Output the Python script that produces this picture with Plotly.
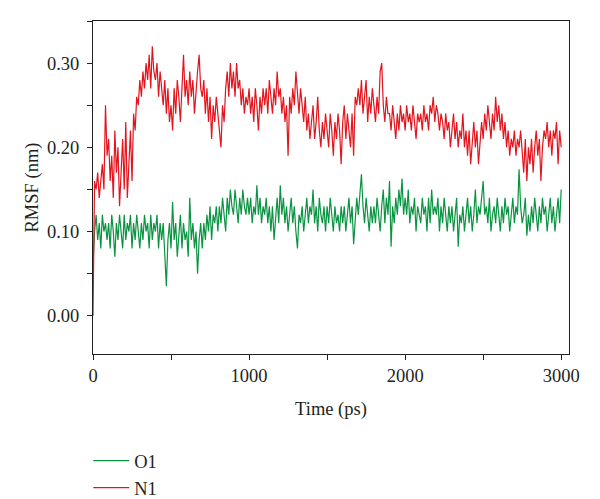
import plotly.graph_objects as go

# Time axis (ps), one sample every 10 ps
time_ps = list(range(0, 3001, 10))

# O1 RMSF (nm)
o1_rmsf = [
    0.06, 0.10, 0.12, 0.09, 0.11, 0.08, 0.12, 0.10, 0.11, 0.09,
    0.11, 0.08, 0.12, 0.10, 0.07, 0.11, 0.09, 0.12, 0.10, 0.08,
    0.12, 0.09, 0.11, 0.10, 0.12, 0.08, 0.11, 0.09, 0.12, 0.10,
    0.08, 0.11, 0.09, 0.12, 0.10, 0.11, 0.08, 0.12, 0.09, 0.11,
    0.10, 0.12, 0.08, 0.11, 0.09, 0.11, 0.07, 0.035, 0.09, 0.11,
    0.08, 0.135, 0.09, 0.11, 0.07, 0.10, 0.12, 0.08, 0.11, 0.09,
    0.10, 0.07, 0.14, 0.09, 0.11, 0.08, 0.10, 0.05, 0.09, 0.11,
    0.08, 0.11, 0.09, 0.12, 0.10, 0.13, 0.09, 0.12, 0.11, 0.13,
    0.10, 0.13, 0.11, 0.14, 0.12, 0.10, 0.14, 0.12, 0.15, 0.13,
    0.12, 0.15, 0.13, 0.11, 0.14, 0.12, 0.15, 0.13, 0.12, 0.14,
    0.12, 0.14, 0.11, 0.13, 0.12, 0.155, 0.12, 0.14, 0.11, 0.13,
    0.12, 0.14, 0.11, 0.13, 0.10, 0.13, 0.09, 0.12, 0.14, 0.11,
    0.155, 0.12, 0.14, 0.11, 0.13, 0.10, 0.12, 0.14, 0.11, 0.13,
    0.10, 0.08, 0.12, 0.11, 0.13, 0.10, 0.12, 0.14, 0.11, 0.13,
    0.12, 0.15, 0.11, 0.13, 0.10, 0.14, 0.12, 0.11, 0.13, 0.10,
    0.13, 0.11, 0.14, 0.12, 0.10, 0.13, 0.11, 0.12, 0.10, 0.13,
    0.11, 0.13, 0.10, 0.12, 0.14, 0.11, 0.13, 0.085, 0.12, 0.14,
    0.12, 0.15, 0.168, 0.13, 0.11, 0.14, 0.12, 0.10, 0.13, 0.11,
    0.13, 0.11, 0.14, 0.12, 0.10, 0.13, 0.15, 0.11, 0.14, 0.12,
    0.16, 0.082, 0.13, 0.11, 0.14, 0.12, 0.15, 0.13, 0.163, 0.12,
    0.14, 0.12, 0.15, 0.11, 0.13, 0.12, 0.14, 0.10, 0.13, 0.12,
    0.11, 0.14, 0.12, 0.13, 0.10, 0.14, 0.11, 0.15, 0.12, 0.13,
    0.12, 0.14, 0.10, 0.13, 0.11, 0.14, 0.12, 0.10, 0.13, 0.11,
    0.13, 0.10, 0.12, 0.14, 0.082, 0.12, 0.11, 0.13, 0.10, 0.12,
    0.14, 0.11, 0.13, 0.10, 0.12, 0.15, 0.11, 0.13, 0.12, 0.14,
    0.16, 0.12, 0.13, 0.11, 0.14, 0.10, 0.12, 0.13, 0.11, 0.14,
    0.12, 0.10, 0.13, 0.11, 0.14, 0.12, 0.13, 0.10, 0.12, 0.14,
    0.11, 0.13, 0.12, 0.174, 0.13, 0.11, 0.12, 0.14, 0.095, 0.12,
    0.10, 0.13, 0.11, 0.14, 0.12, 0.10, 0.13, 0.11, 0.14, 0.12,
    0.13, 0.10, 0.12, 0.14, 0.11, 0.13, 0.10, 0.12, 0.14, 0.11,
    0.15,
]

# N1 RMSF (nm)
n1_rmsf = [
    0.00, 0.16, 0.15, 0.17, 0.14, 0.16, 0.18, 0.15, 0.25, 0.19,
    0.21, 0.16, 0.19, 0.14, 0.22, 0.17, 0.20, 0.13, 0.18, 0.21,
    0.15, 0.23, 0.14, 0.19, 0.22, 0.16, 0.24, 0.22, 0.26, 0.25,
    0.28, 0.26, 0.29, 0.27, 0.30, 0.28, 0.31, 0.27, 0.32, 0.29,
    0.28, 0.30, 0.26, 0.29, 0.27, 0.25, 0.28, 0.24, 0.27, 0.23,
    0.25, 0.22, 0.27, 0.24, 0.28, 0.26, 0.23, 0.27, 0.31, 0.26,
    0.28, 0.25, 0.29, 0.26, 0.28, 0.24, 0.27, 0.29, 0.31, 0.27,
    0.26, 0.28, 0.24, 0.27, 0.23, 0.26, 0.21, 0.25, 0.23, 0.26,
    0.24, 0.22, 0.20, 0.25, 0.23, 0.27, 0.29, 0.26, 0.30, 0.27,
    0.29, 0.26, 0.30, 0.27, 0.28, 0.25, 0.27, 0.24, 0.26, 0.25,
    0.27, 0.24, 0.26, 0.23, 0.27, 0.25, 0.22, 0.26, 0.24, 0.27,
    0.25, 0.27, 0.24, 0.28, 0.26, 0.24, 0.27, 0.25, 0.29, 0.26,
    0.27, 0.24, 0.26, 0.23, 0.25, 0.19, 0.26, 0.24, 0.27, 0.25,
    0.29, 0.26, 0.24, 0.27, 0.25, 0.23, 0.26, 0.22, 0.24, 0.21,
    0.23, 0.25, 0.21, 0.23, 0.26, 0.22, 0.20, 0.23, 0.21, 0.24,
    0.22, 0.20, 0.24, 0.22, 0.19, 0.23, 0.21, 0.24, 0.22, 0.18,
    0.23, 0.25, 0.21, 0.24, 0.22, 0.20, 0.24, 0.19, 0.26, 0.25,
    0.27, 0.25, 0.28, 0.24, 0.26, 0.28, 0.23, 0.26, 0.24, 0.27,
    0.25, 0.23, 0.26, 0.24, 0.29, 0.30, 0.25, 0.23, 0.26, 0.24,
    0.24, 0.22, 0.25, 0.23, 0.21, 0.24, 0.22, 0.25, 0.23, 0.24,
    0.22, 0.25, 0.23, 0.24, 0.22, 0.25, 0.23, 0.21, 0.24, 0.23,
    0.24, 0.22, 0.25, 0.23, 0.24, 0.22, 0.25, 0.24, 0.26, 0.23,
    0.25, 0.24, 0.22, 0.24, 0.23, 0.21, 0.24, 0.22, 0.23, 0.20,
    0.22, 0.24, 0.21, 0.23, 0.20, 0.22, 0.21, 0.24, 0.20, 0.22,
    0.19, 0.22, 0.18, 0.21, 0.23, 0.20, 0.22, 0.18, 0.21, 0.23,
    0.21, 0.24, 0.22, 0.25, 0.23, 0.21, 0.24, 0.22, 0.26, 0.23,
    0.25, 0.22, 0.24, 0.21, 0.23, 0.20, 0.22, 0.19, 0.21, 0.20,
    0.22, 0.19, 0.21, 0.20, 0.22, 0.19, 0.17, 0.21, 0.16, 0.20,
    0.18, 0.21, 0.17, 0.20, 0.22, 0.19, 0.21, 0.16, 0.20, 0.22,
    0.21, 0.23, 0.20, 0.22, 0.19, 0.22, 0.21, 0.23, 0.18, 0.22,
    0.20,
]

x_major_ticks = [0, 1000, 2000, 3000]
x_tick_labels = ["0", "1000", "2000", "3000"]
y_major_ticks = [0.0, 0.1, 0.2, 0.3]
y_tick_labels = ["0.00", "0.10", "0.20", "0.30"]

FONT = "Liberation Serif"
INK = "#231f20"
FS = 18.5

fig = go.Figure()
fig.add_trace(go.Scatter(x=time_ps, y=o1_rmsf, mode="lines", name="O1",
                         line=dict(color="#0a9442", width=1.2)))
fig.add_trace(go.Scatter(x=time_ps, y=n1_rmsf, mode="lines", name="N1",
                         line=dict(color="#e3141d", width=1.2)))

# the page body adds an 8 px offset, so the figure is shifted to compensate
W, H = 592, 515
ML, MR, MT = 85, 31, 13
plot_h = 333
MB = H - MT - plot_h
fig.update_layout(
    template="none",
    width=W, height=H,
    margin=dict(l=ML, r=MR, t=MT, b=MB),
    paper_bgcolor="white", plot_bgcolor="white",
    font=dict(family=FONT, size=FS, color=INK),
    showlegend=True,
    legend=dict(x=-0.01, y=-88 / plot_h, xanchor="left", yanchor="top",
                orientation="v", itemwidth=36,
                font=dict(family=FONT, size=FS, color=INK),
                bgcolor="rgba(0,0,0,0)", borderwidth=0),
)
fig.update_xaxes(
    range=[0, 3050], showgrid=False, zeroline=False, automargin=False,
    showline=True, linecolor=INK, linewidth=1, mirror=True,
    tickmode="array", tickvals=x_major_ticks, ticktext=x_tick_labels,
    ticks="outside", ticklen=5, tickcolor=INK, tickwidth=1,
    minor=dict(dtick=500, tick0=0, ticks="outside", ticklen=5, tickcolor=INK, showgrid=False),
    title=dict(text="Time (ps)", standoff=16, font=dict(family=FONT, size=FS, color=INK)),
    tickfont=dict(family=FONT, size=FS, color=INK),
)
fig.update_yaxes(
    range=[-0.0454, 0.35], showgrid=False, zeroline=False, automargin=False,
    showline=True, linecolor=INK, linewidth=1, mirror=True,
    tickmode="array", tickvals=y_major_ticks, ticktext=y_tick_labels,
    ticks="outside", ticklen=5, tickcolor=INK, tickwidth=1, ticklabelstandoff=4,
    minor=dict(dtick=0.05, tick0=0, ticks="outside", ticklen=5, tickcolor=INK, showgrid=False),
    title=dict(text="RMSF (nm)", standoff=3, font=dict(family=FONT, size=FS, color=INK)),
    tickfont=dict(family=FONT, size=FS, color=INK),
)

fig.write_html("out.html")
